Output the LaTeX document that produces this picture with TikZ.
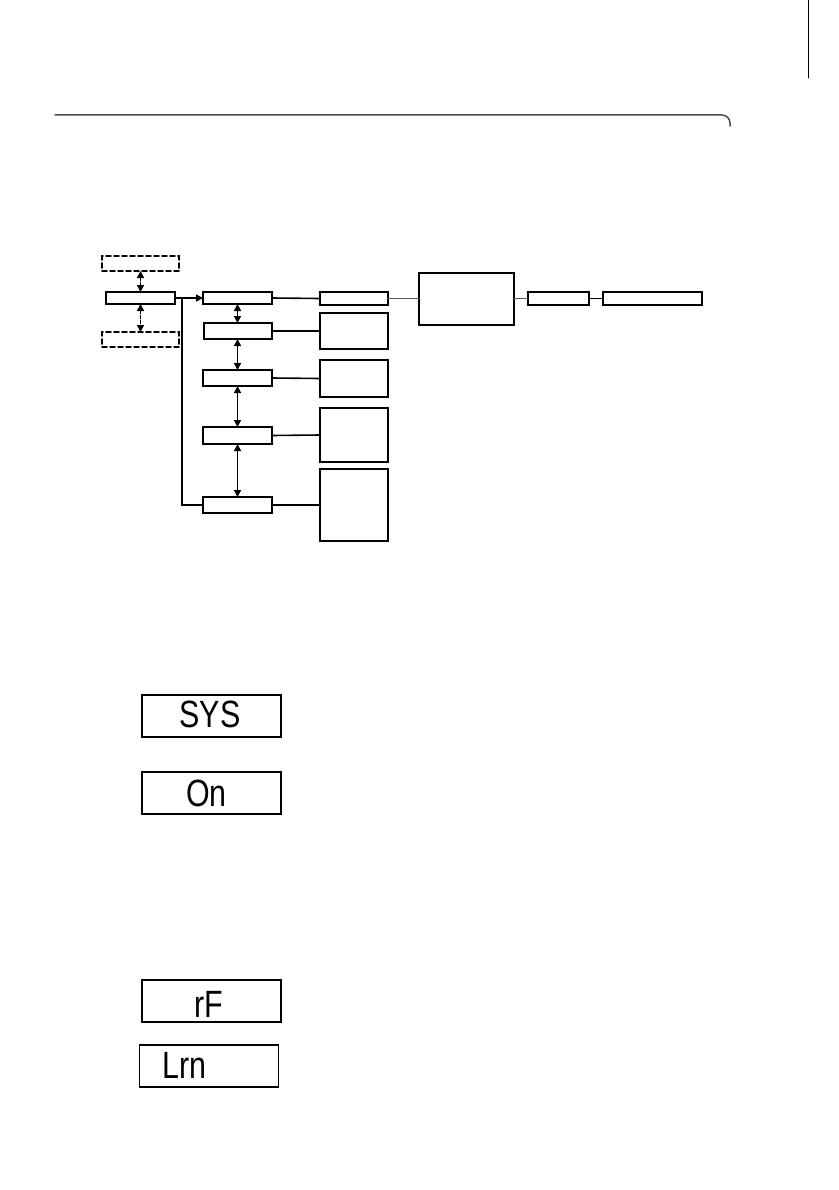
\documentclass[tikz,border=0pt]{standalone}
\usepackage{fontspec}
\usepackage{tikz}
\usetikzlibrary{arrows.meta}
\newfontfamily\segfont{Liberation Sans}

\begin{document}
\begin{tikzpicture}[x=1pt,y=1pt,line cap=round,
  box/.style={draw,line width=1.8pt,inner sep=0pt,outer sep=0pt},
  dbox/.style={box,dashed,dash pattern=on 5pt off 3pt},
  link/.style={line width=1.6pt},
  twoway/.style={{Triangle[length=7pt,width=7pt]}-{Triangle[length=7pt,width=7pt]}},
  oneway/.style={-{Triangle[length=7pt,width=7pt]}},
  lcd/.style={box,minimum width=139pt,minimum height=42pt},
  seg/.style={font=\segfont\fontsize{38}{38}\selectfont,xscale=0.8,inner sep=0pt}]
\useasboundingbox (0,0) rectangle (838,-1190);
% page frame
\draw[gray!60!black,line width=1.5pt,rounded corners=8pt] (55,-115) -- (730,-115) -- (730,-126);
\draw[line width=0.6pt] (808,0) -- (808,-78);
% menu boxes, left
\node[dbox,minimum width=77pt,minimum height=15pt] (opt1) at (140.5,-263.5) {};
\node[box,minimum width=69pt,minimum height=12pt] (menu) at (140.5,-298) {};
\node[dbox,minimum width=77pt,minimum height=15pt] (opt2) at (140.5,-339.5) {};
\draw[link,twoway,dash pattern=on 3pt off 2pt] (opt1.south) -- (menu.north);
\draw[link,twoway,dash pattern=on 3pt off 2pt] (menu.south) -- (opt2.north);
% second column
\node[box,minimum width=69pt,minimum height=12pt] (ia) at (237.5,-298) {};
\node[box,minimum width=68pt,minimum height=16pt] (ib) at (238,-331) {};
\node[box,minimum width=69pt,minimum height=16pt] (ic) at (237.5,-378) {};
\node[box,minimum width=69pt,minimum height=17pt] (id) at (237.5,-435.5) {};
\node[box,minimum width=69pt,minimum height=16pt] (ie) at (237.5,-505) {};
\coordinate (split) at (182,-298);
\draw[link] (menu.east) -- (split);
\draw[link,oneway] (split) -- (ia.west);
\draw[link] (split) |- (ie.west);
\draw[link,twoway] (ia.south -| 237.5,0) -- (ib.north -| 237.5,0);
\draw[link,twoway] (ib.south -| 237.5,0) -- (ic.north -| 237.5,0);
\draw[link,twoway] (ic.south -| 237.5,0) -- (id.north -| 237.5,0);
\draw[link,twoway] (id.south -| 237.5,0) -- (ie.north -| 237.5,0);
% third column
\node[box,minimum width=68pt,minimum height=13pt] (ra) at (354,-298.5) {};
\node[box,minimum width=68pt,minimum height=36pt] (rb) at (354,-331) {};
\node[box,minimum width=68pt,minimum height=37pt] (rc) at (354,-378.5) {};
\node[box,minimum width=68pt,minimum height=54pt] (rd) at (354,-435) {};
\node[box,minimum width=68pt,minimum height=72pt] (re) at (354,-505) {};
\draw[link] (ia.east) -- (ra.west);
\draw[link] (ib.east) -- (rb.west);
\draw[link] (ic.east) -- (rc.west);
\draw[link] (id.east) -- (rd.west);
\draw[link] (ie.east) -- (re.west);
% right chain
\node[box,minimum width=95pt,minimum height=52pt] (big) at (466.5,-299) {};
\node[box,minimum width=61pt,minimum height=13pt] (xa) at (558.5,-298.5) {};
\node[box,minimum width=99pt,minimum height=13pt] (xb) at (652.5,-298.5) {};
\draw[link,gray!70!black] (ra.east) -- (big.west |- ra.east);
\draw[link,gray!70!black] (big.east |- xa.west) -- (xa.west);
\draw[link] (xa.east) -- (xb.west);
% displays
\node[lcd] (sys) at (211.5,-716) {};
\node[seg] at (210,-714) {SYS};
\node[lcd] (on) at (211.5,-793) {};
\node[seg,anchor=west] at (186,-793) {On};
\node[lcd] (rf) at (211.5,-1001) {};
\node[seg,anchor=west] at (194,-1004) {rF};
\node[lcd] (lrn) at (209,-1066) {};
\node[seg,anchor=west] at (162,-1065) {Lrn};
\end{tikzpicture}
\end{document}
